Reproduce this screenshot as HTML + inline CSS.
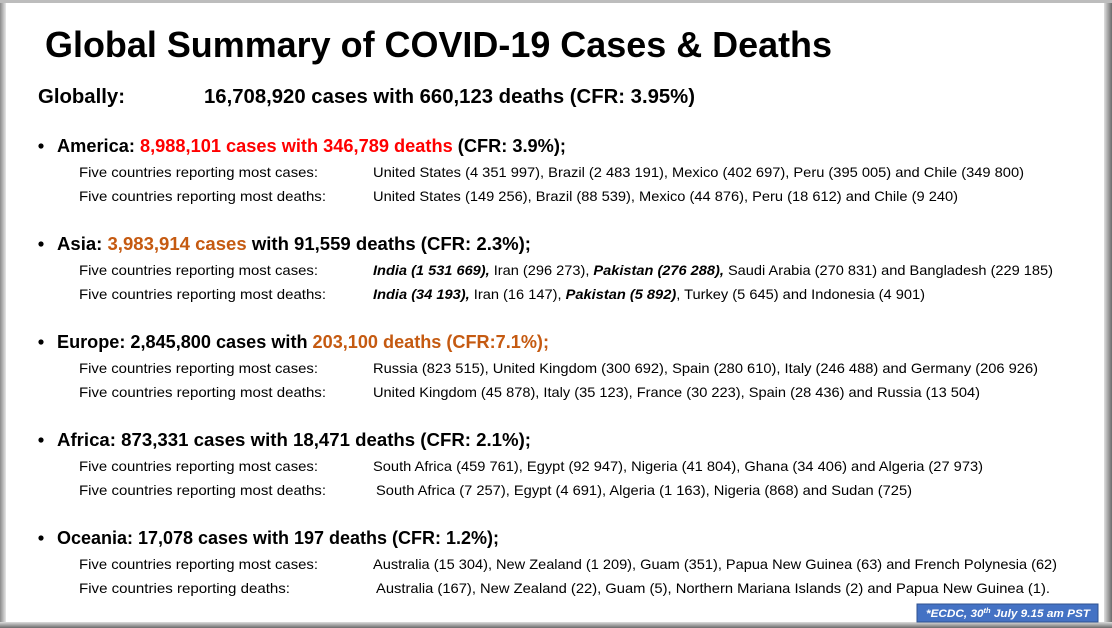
<!DOCTYPE html>
<html><head><meta charset="utf-8"><style>
html,body{margin:0;padding:0;background:#fff;}
svg{display:block;font-family:"Liberation Sans",sans-serif;}
.h{font-weight:bold;}
.s{font-size:14px;}
.r{fill:#FF0000;}
.o{fill:#C55A11;}
.bi{font-weight:bold;font-style:italic;}
</style></head><body>
<svg width="1112" height="628" viewBox="0 0 1112 628" xmlns="http://www.w3.org/2000/svg">
<defs><linearGradient id="lg" x1="0" x2="1"><stop offset="0" stop-color="#8a8a8a"/><stop offset="1" stop-color="#e8e8e8"/></linearGradient>
<linearGradient id="rg" x1="0" x2="1"><stop offset="0" stop-color="#e0e0e0"/><stop offset="1" stop-color="#6a6a6a"/></linearGradient>
<linearGradient id="bg" x1="0" y1="0" x2="0" y2="1"><stop offset="0" stop-color="#dcdcdc"/><stop offset="1" stop-color="#6a6a6a"/></linearGradient></defs>
<rect width="1112" height="628" fill="#fff"/>
<rect x="0" y="0" width="6" height="628" fill="url(#lg)"/>
<rect x="1104" y="0" width="8" height="628" fill="url(#rg)"/>
<rect x="0" y="622" width="1112" height="6" fill="url(#bg)"/>
<rect x="0" y="0" width="1112" height="3" fill="#bdbdbd"/>

<text class="h" x="45" y="57" font-size="36" textLength="787" lengthAdjust="spacingAndGlyphs">Global Summary of COVID-19 Cases &amp; Deaths</text>

<text class="h" x="38" y="103" font-size="20" textLength="87" lengthAdjust="spacingAndGlyphs">Globally:</text>
<text class="h" x="204" y="103" font-size="20" textLength="491" lengthAdjust="spacingAndGlyphs">16,708,920 cases with 660,123 deaths (CFR: 3.95%)</text>

<g>
<circle cx="41" cy="146" r="2.6" fill="#000"/>
<text class="h" x="57" y="152" font-size="18" textLength="509" lengthAdjust="spacingAndGlyphs">America: <tspan class="r">8,988,101 cases with 346,789 deaths</tspan> (CFR: 3.9%);</text>
<text class="s" x="79" y="177" textLength="239" lengthAdjust="spacingAndGlyphs">Five countries reporting most cases:</text>
<text class="s" x="373" y="177" textLength="651" lengthAdjust="spacingAndGlyphs">United States (4 351 997), Brazil (2 483 191), Mexico (402 697), Peru (395 005) and Chile (349 800)</text>
<text class="s" x="79" y="201" textLength="247" lengthAdjust="spacingAndGlyphs">Five countries reporting most deaths:</text>
<text class="s" x="373" y="201" textLength="585" lengthAdjust="spacingAndGlyphs">United States (149 256), Brazil (88 539), Mexico (44 876), Peru (18 612) and Chile (9 240)</text>
</g>

<g>
<circle cx="41" cy="244" r="2.6" fill="#000"/>
<text class="h" x="57" y="250" font-size="18" textLength="474" lengthAdjust="spacingAndGlyphs">Asia: <tspan class="o">3,983,914 cases</tspan> with 91,559 deaths (CFR: 2.3%);</text>
<text class="s" x="79" y="275" textLength="239" lengthAdjust="spacingAndGlyphs">Five countries reporting most cases:</text>
<text class="s" x="373" y="275" textLength="680" lengthAdjust="spacingAndGlyphs"><tspan class="bi">India (1 531 669),</tspan> Iran (296 273), <tspan class="bi">Pakistan (276 288),</tspan> Saudi Arabia (270 831) and Bangladesh (229 185)</text>
<text class="s" x="79" y="299" textLength="247" lengthAdjust="spacingAndGlyphs">Five countries reporting most deaths:</text>
<text class="s" x="373" y="299" textLength="552" lengthAdjust="spacingAndGlyphs"><tspan class="bi">India (34 193),</tspan> Iran (16 147), <tspan class="bi">Pakistan (5 892)</tspan>, Turkey (5 645) and Indonesia (4 901)</text>
</g>

<g>
<circle cx="41" cy="342" r="2.6" fill="#000"/>
<text class="h" x="57" y="348" font-size="18" textLength="492" lengthAdjust="spacingAndGlyphs">Europe: 2,845,800 cases with <tspan class="o">203,100 deaths (CFR:7.1%);</tspan></text>
<text class="s" x="79" y="373" textLength="239" lengthAdjust="spacingAndGlyphs">Five countries reporting most cases:</text>
<text class="s" x="373" y="373" textLength="665" lengthAdjust="spacingAndGlyphs">Russia (823 515), United Kingdom (300 692), Spain (280 610), Italy (246 488) and Germany (206 926)</text>
<text class="s" x="79" y="397" textLength="247" lengthAdjust="spacingAndGlyphs">Five countries reporting most deaths:</text>
<text class="s" x="373" y="397" textLength="607" lengthAdjust="spacingAndGlyphs">United Kingdom (45 878), Italy (35 123), France (30 223), Spain (28 436) and Russia (13 504)</text>
</g>

<g>
<circle cx="41" cy="440" r="2.6" fill="#000"/>
<text class="h" x="57" y="446" font-size="18" textLength="474" lengthAdjust="spacingAndGlyphs">Africa: 873,331 cases with 18,471 deaths (CFR: 2.1%);</text>
<text class="s" x="79" y="471" textLength="239" lengthAdjust="spacingAndGlyphs">Five countries reporting most cases:</text>
<text class="s" x="373" y="471" textLength="610" lengthAdjust="spacingAndGlyphs">South Africa (459 761), Egypt (92 947), Nigeria (41 804), Ghana (34 406) and Algeria (27 973)</text>
<text class="s" x="79" y="495" textLength="247" lengthAdjust="spacingAndGlyphs">Five countries reporting most deaths:</text>
<text class="s" x="376" y="495" textLength="536" lengthAdjust="spacingAndGlyphs">South Africa (7 257), Egypt (4 691), Algeria (1 163), Nigeria (868) and Sudan (725)</text>
</g>

<g>
<circle cx="41" cy="538" r="2.6" fill="#000"/>
<text class="h" x="57" y="544" font-size="18" textLength="442" lengthAdjust="spacingAndGlyphs">Oceania: 17,078 cases with 197 deaths (CFR: 1.2%);</text>
<text class="s" x="79" y="569" textLength="239" lengthAdjust="spacingAndGlyphs">Five countries reporting most cases:</text>
<text class="s" x="373" y="569" textLength="684" lengthAdjust="spacingAndGlyphs">Australia (15 304), New Zealand (1 209), Guam (351), Papua New Guinea (63) and French Polynesia (62)</text>
<text class="s" x="79" y="593" textLength="211" lengthAdjust="spacingAndGlyphs">Five countries reporting deaths:</text>
<text class="s" x="376" y="593" textLength="674" lengthAdjust="spacingAndGlyphs">Australia (167), New Zealand (22), Guam (5), Northern Mariana Islands (2) and Papua New Guinea  (1).</text>
</g>

<g>
<rect x="917" y="604" width="181" height="18" fill="#4472C4" stroke="#2F528F" stroke-width="1"/>
<text x="926" y="617" font-size="11" fill="#fff" font-style="italic" font-weight="bold" textLength="164" lengthAdjust="spacingAndGlyphs">*ECDC, 30<tspan font-size="7" dy="-4">th</tspan><tspan dy="4"> July 9.15 am PST</tspan></text>
</g>
</svg>
</body></html>
